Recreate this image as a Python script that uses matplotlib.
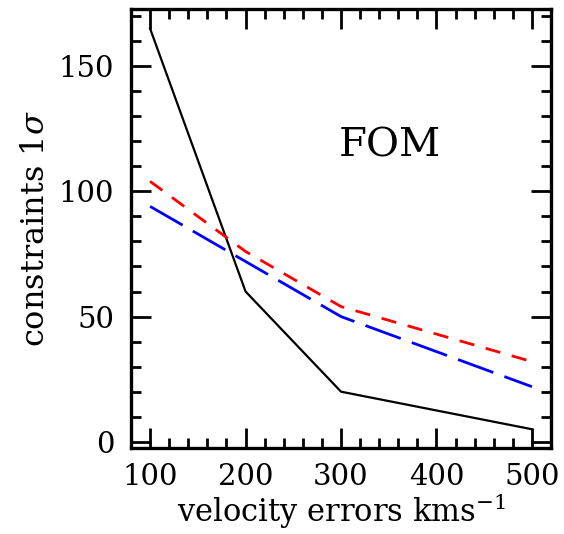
import matplotlib
matplotlib.use('Agg')
import matplotlib.pyplot as plt
from matplotlib.ticker import MultipleLocator

# Velocity error (km/s) against 1-sigma constraint
velocity_errors = [100, 200, 300, 500]
fom_solid = [165, 60, 20, 5]
velocity_dashed = [100, 200, 300, 500]
fom_red = [104, 76, 54, 32]
fom_blue = [94, 72, 50, 22]

plt.rcParams['font.family'] = 'DejaVu Serif'
plt.rcParams['lines.scale_dashes'] = False
plt.rcParams['mathtext.fontset'] = 'dejavuserif'

fig = plt.figure(figsize=(5.64, 5.34), dpi=100)
ax = fig.add_axes([0.2323, 0.161, 0.7447, 0.822])

ax.plot(velocity_errors, fom_solid, color='black', lw=1.6)
ax.plot(velocity_dashed, fom_red, color='#ff0000', lw=2.0, dashes=(11, 8.5))
ax.plot(velocity_dashed, fom_blue, color='#0000ff', lw=2.0, dashes=(27, 8.5))

ax.set_xlim(80, 520)
ax.set_ylim(-2.5, 172.8)

ax.xaxis.set_major_locator(MultipleLocator(100))
ax.xaxis.set_minor_locator(MultipleLocator(20))
ax.yaxis.set_major_locator(MultipleLocator(50))
ax.yaxis.set_minor_locator(MultipleLocator(10))

ax.tick_params(which='both', direction='in', top=True, right=True, width=2.0,
               labelsize=21)
ax.tick_params(which='major', length=14.4)
ax.tick_params(which='minor', length=7.2)
ax.tick_params(axis='x', pad=11)
ax.tick_params(axis='y', pad=12)

for spine in ax.spines.values():
    spine.set_linewidth(2.4)

ax.set_xlabel(r'velocity errors kms$^{-1}$', fontsize=22, labelpad=0)
ax.set_ylabel(r'constraints 1$\sigma$', fontsize=23, labelpad=6)

ax.text(351, 118, 'FOM', fontsize=29, ha='center', va='center')

fig.savefig('out.png', dpi=100)
